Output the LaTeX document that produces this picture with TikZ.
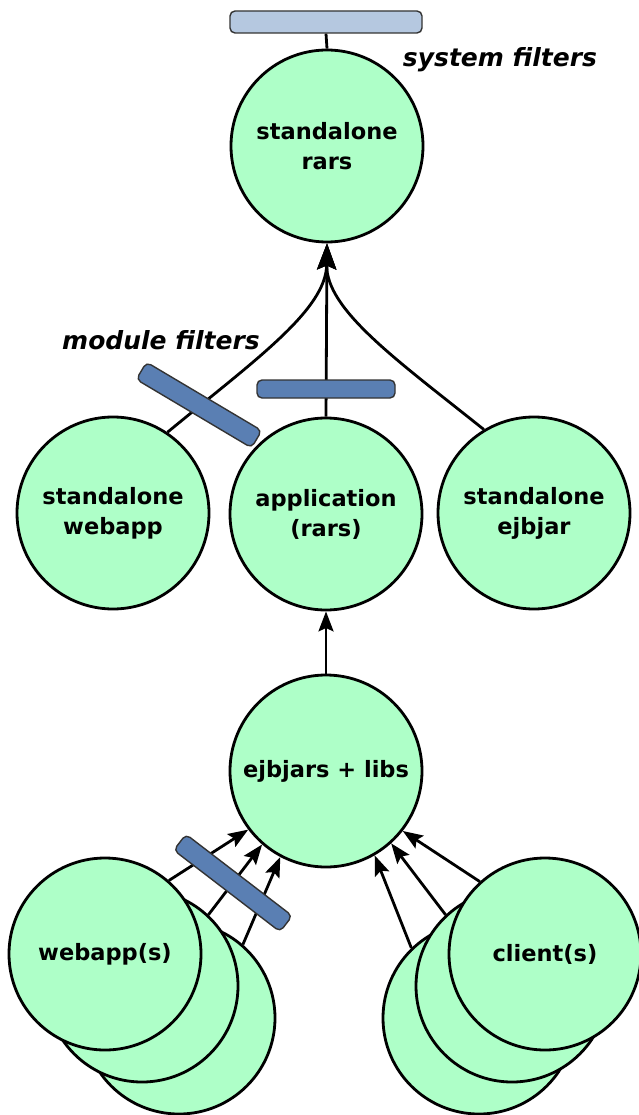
\documentclass[tikz,border=0pt]{standalone}
\usepackage{fontspec}
\setmainfont{DejaVu Sans}
\usetikzlibrary{arrows.meta}
\definecolor{mint}{HTML}{AEFFC8}
\definecolor{darkbar}{HTML}{5A7FB3}
\definecolor{lightbar}{HTML}{B5C8E0}
\tikzset{
  circ/.style={circle, draw=black, line width=2.8pt, fill=mint, minimum size=192pt, inner sep=0pt, align=center, font=\fontsize{22.5}{30}\selectfont\bfseries},
  filt/.style={rectangle, rounded corners=5pt, draw=black!80, line width=1.4pt, fill=darkbar, minimum width=134pt, minimum height=20pt, inner sep=0pt},
  topfilt/.style={filt, fill=lightbar, minimum width=192pt, minimum height=22pt},
  conn/.style={line width=2.8pt, draw=black},
  arr/.style={conn, -{Stealth[length=26pt,width=19pt,inset=4pt]}},
  sarr/.style={conn, -{Stealth[length=20pt,width=15pt,inset=3.5pt]}},
  lbl/.style={font=\fontsize{25}{30}\selectfont\bfseries\itshape, inner sep=0pt}
}
\begin{document}
\begin{tikzpicture}[x=1pt, y=-1pt]
\useasboundingbox (0,0) rectangle (639,1115);
% top
\node[topfilt] (sysf) at (326,22) {};
\node[circ] (rars) at (327,146) {standalone\\rars};
\draw[conn] (sysf.south) -- (rars.north);
\node[lbl] (syslbl) at (500,60) {system filters};
% middle row
\node[circ] (swebapp) at (113,513) {standalone\\webapp};
\node[circ] (app) at (326,514) {application\\(rars)};
\node[circ] (sejb) at (534,513) {standalone\\ejbjar};
\draw[arr] (swebapp.56) .. controls (255,360) and (326,310) .. (rars.south);
\draw[arr] (sejb.121) .. controls (397,360) and (326,310) .. (rars.south);
\draw[arr] (app.north) -- (rars.south);
\node[filt, rotate=-30.7] (modf1) at (199,405) {};
\node[filt, minimum width=138pt, minimum height=18pt] (modf2) at (326,389) {};
\node[lbl] (modlbl) at (161,340) {module filters};
% ejbjars
\node[circ] (ejb) at (326,771) {ejbjars + libs};
\draw[sarr] (ejb.north) -- (app.south);
% webapp stack
\node[circ] (w3) at (179,1018) {};
\node[circ] (w2) at (142,986) {};
\node[circ] (w1) at (105,954) {webapp(s)};
% client stack
\node[circ] (c3) at (479,1018) {};
\node[circ] (c2) at (512,986) {};
\node[circ] (c1) at (545,954) {client(s)};
% arrows
\draw[sarr] (w1.49) -- (ejb.217);
\draw[sarr] (w2.47) -- (ejb.229);
\draw[sarr] (w3.49) -- (ejb.242);
\draw[sarr] (c1.132) -- (ejb.322);
\draw[sarr] (c2.133) -- (ejb.312);
\draw[sarr] (c3.134) -- (ejb.300);
\node[filt, rotate=-37.5] (webf) at (233,883) {};
\end{tikzpicture}
\end{document}
